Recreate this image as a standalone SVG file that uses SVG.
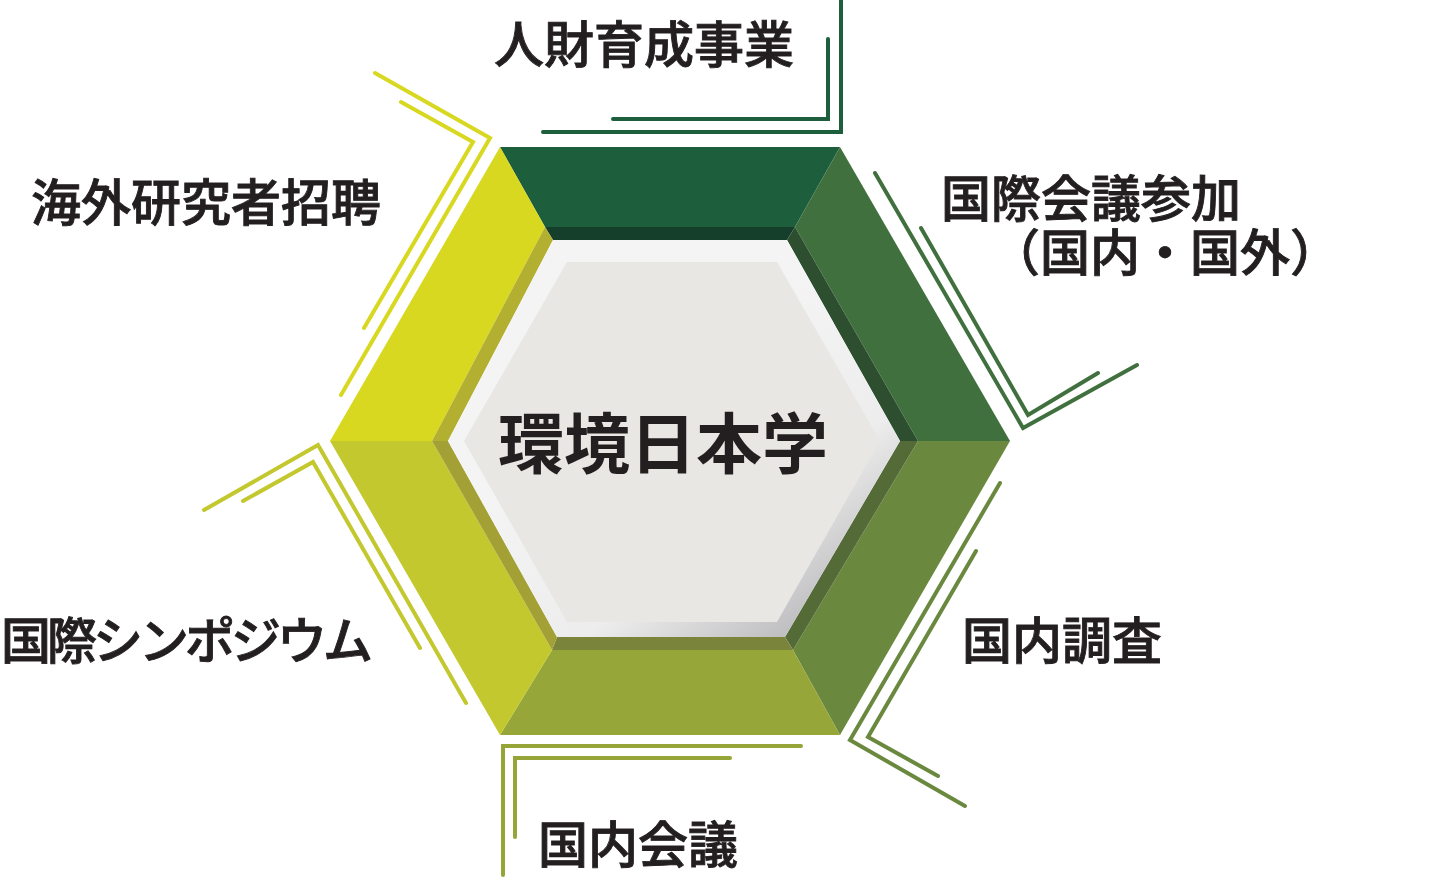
<svg xmlns="http://www.w3.org/2000/svg" width="1443" height="879" viewBox="0 0 1443 879">
<style>
.lbl{font-family:"Noto Sans CJK JP","Noto Sans CJK SC",sans-serif;font-size:50px;font-weight:500;fill:#231F20;stroke:#231F20;stroke-width:0.9px}
.ctr{font-family:"Noto Sans CJK JP","Noto Sans CJK SC",sans-serif;font-size:66px;font-weight:700;fill:#231F20}
.cn{fill:none;stroke-width:4;stroke-linecap:round;stroke-linejoin:miter}
</style>
<defs>
<linearGradient id="wg" x1="0.45" y1="0.35" x2="0.92" y2="0.92">
<stop offset="0" stop-color="#F4F4F4"/>
<stop offset="0.55" stop-color="#EDEDED"/>
<stop offset="1" stop-color="#B6B6B9"/>
</linearGradient>
</defs>
<rect width="1443" height="879" fill="#FFFFFF"/>

<g id="connectors">
<polyline class="cn" stroke="#1D5E3D" points="543,132 841,132 841,1"/>
<polyline class="cn" stroke="#1D5E3D" points="613,119 828,119 828,39"/>
<polyline class="cn" stroke="#41703F" points="875,173 1023,428 1137,365"/>
<polyline class="cn" stroke="#41703F" points="921,228 1028,415 1098,373"/>
<polyline class="cn" stroke="#6A893F" points="1000,483 850,740 965,806"/>
<polyline class="cn" stroke="#6A893F" points="976,551 868,737 938,776"/>
<polyline class="cn" stroke="#95A537" points="801,746 503,746 503,875"/>
<polyline class="cn" stroke="#95A537" points="730,758 515,758 515,837"/>
<polyline class="cn" stroke="#C2C82E" points="204,510 318,445 466,703"/>
<polyline class="cn" stroke="#C2C82E" points="243,501 313,462 420,648"/>
<polyline class="cn" stroke="#D8D820" points="375,73 490,138 341,395"/>
<polyline class="cn" stroke="#D8D820" points="401,102 473,142 364,328"/>
</g>

<g id="seg-top">
<polygon points="500,147 840,147 795,227 545,227" fill="#1D5E3D"/>
<polygon points="545,227 795,227 787,240 553,240" fill="#153F2A"/>
</g>
<g id="seg-top-right">
<polygon points="840,147 1010,441 918,441 795,227" fill="#41703F"/>
<polygon points="795,227 918,441 900,441 787,240" fill="#2D4F30"/>
</g>
<g id="seg-bottom-right">
<polygon points="1010,441 840,735 793,650 918,441" fill="#6A893F"/>
<polygon points="918,441 793,650 785,637 900,441" fill="#546A37"/>
</g>
<g id="seg-bottom">
<polygon points="840,735 500,735 552,650 793,650" fill="#96A638"/>
<polygon points="793,650 552,650 557,637 785,637" fill="#7A853B"/>
</g>
<g id="seg-bottom-left">
<polygon points="500,735 330,441 432,441 552,650" fill="#C2C82E"/>
<polygon points="552,650 432,441 448,441 557,637" fill="#A3A135"/>
</g>
<g id="seg-top-left">
<polygon points="330,441 500,147 545,227 432,441" fill="#D8D820"/>
<polygon points="432,441 545,227 553,240 448,441" fill="#B3AF30"/>
</g>

<g id="center">
<polygon points="448,441 553,240 787,240 900,441 785,637 557,637" fill="url(#wg)"/>
<polygon points="464,441 567,262 777,262 880,441 777,622 567,622" fill="#E8E7E4"/>
<text class="ctr" x="663" y="468" text-anchor="middle">環境日本学</text>
</g>

<g id="label-jinzai"><text class="lbl" x="494" y="63">人財育成事業</text></g>
<g id="label-kaigai"><text class="lbl" x="31" y="221">海外研究者招聘</text></g>
<g id="label-kokusaikaigi">
<text class="lbl"><tspan x="941" y="217">国際会議参加</tspan><tspan x="990" y="271">（国内・国外）</tspan></text>
</g>
<g id="label-kokunaichosa"><text class="lbl" x="962" y="659">国内調査</text></g>
<g id="label-kokunaikaigi"><text class="lbl" x="538" y="863">国内会議</text></g>
<g id="label-symposium"><text class="lbl" x="1" y="659" letter-spacing="-4">国際シンポジウム</text></g>
</svg>
